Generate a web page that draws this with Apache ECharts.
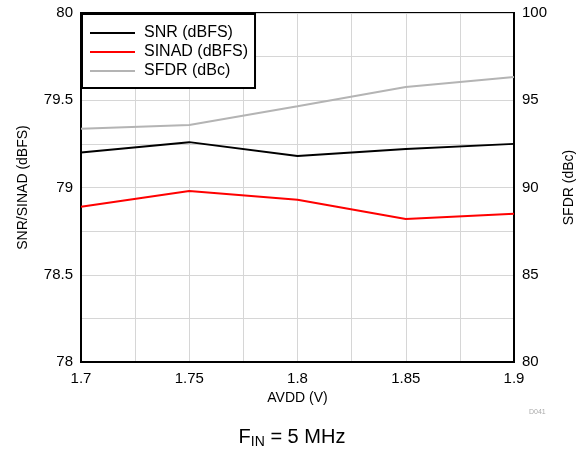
<!DOCTYPE html>
<html><head><meta charset="utf-8">
<script src="https://cdn.jsdelivr.net/npm/echarts@6/dist/echarts.min.js"></script>
<style>html,body{margin:0;padding:0;background:#fff}#c{width:584px;height:456px}</style>
</head><body><div id="c"></div>
<script>
const xValues = [1.7, 1.75, 1.8, 1.85, 1.9];
const snr = [79.20, 79.26, 79.18, 79.22, 79.25];
const sinad = [78.89, 78.98, 78.93, 78.82, 78.85];
const sfdr = [93.37, 93.58, 94.66, 95.76, 96.33];
const leftTicks = [78, 78.5, 79, 79.5, 80];
const rightTicks = [80, 85, 90, 95, 100];
const xTicks = [1.7, 1.75, 1.8, 1.85, 1.9];

const chart = echarts.init(document.getElementById('c'), null, {renderer: 'canvas'});
const font = 'Liberation Sans, Arial, sans-serif';
function fmt(v, list) {
  const t = list.find(t => Math.abs(t - v) < 1e-6);
  return t === undefined ? '' : String(t);
}
const pair = (xs, ys) => xs.map((x, i) => [x, ys[i]]);
chart.setOption({
  animation: false,
  grid: {left: 81, right: 70, top: 13, bottom: 94, show: true, borderColor: '#000', borderWidth: 2, backgroundColor: 'transparent'},
  legend: {
    left: 82, top: 14, orient: 'vertical', itemGap: 3, itemWidth: 45, itemHeight: 2,
    padding: [11, 7, 9, 8],
    backgroundColor: '#fff', borderColor: '#000', borderWidth: 2,
    icon: 'rect',
    textStyle: {fontFamily: font, fontSize: 16, color: '#000', padding: [0, 0, 0, 4]},
    data: ['SNR (dBFS)', 'SINAD (dBFS)', 'SFDR (dBc)']
  },
  xAxis: {
    type: 'value', min: 1.7, max: 1.9, interval: 0.025,
    name: 'AVDD (V)', nameLocation: 'middle', nameGap: 28,
    nameTextStyle: {fontFamily: font, fontSize: 14, color: '#000'},
    axisLine: {lineStyle: {color: '#000', width: 2}},
    axisTick: {show: false},
    axisLabel: {fontFamily: font, fontSize: 15, color: '#000', margin: 9, formatter: v => fmt(v, xTicks)},
    splitLine: {lineStyle: {color: '#d6d6d6', width: 1}}
  },
  yAxis: [{
    type: 'value', min: 78, max: 80, interval: 0.25,
    name: 'SNR/SINAD (dBFS)', nameLocation: 'middle', nameGap: 51,
    nameTextStyle: {fontFamily: font, fontSize: 14, color: '#000'},
    axisLine: {show: true, lineStyle: {color: '#000', width: 2}},
    axisTick: {show: false},
    axisLabel: {fontFamily: font, fontSize: 15, color: '#000', margin: 8, formatter: v => fmt(v, leftTicks)},
    splitLine: {lineStyle: {color: '#d6d6d6', width: 1}}
  }, {
    type: 'value', min: 80, max: 100, interval: 2.5, position: 'right',
    name: 'SFDR (dBc)', nameLocation: 'middle', nameGap: 48, nameRotate: 90,
    nameTextStyle: {fontFamily: font, fontSize: 14, color: '#000'},
    axisLine: {show: true, lineStyle: {color: '#000', width: 2}},
    axisTick: {show: false},
    axisLabel: {fontFamily: font, fontSize: 15, color: '#000', margin: 8, formatter: v => fmt(v, rightTicks)},
    splitLine: {show: false}
  }],
  series: [
    {name: 'SNR (dBFS)', type: 'line', yAxisIndex: 0, data: pair(xValues, snr), showSymbol: false, symbol: 'none', lineStyle: {color: '#000', width: 2}, itemStyle: {color: '#000'}},
    {name: 'SINAD (dBFS)', type: 'line', yAxisIndex: 0, data: pair(xValues, sinad), showSymbol: false, symbol: 'none', lineStyle: {color: '#ff0000', width: 2}, itemStyle: {color: '#ff0000'}},
    {name: 'SFDR (dBc)', type: 'line', yAxisIndex: 1, data: pair(xValues, sfdr), showSymbol: false, symbol: 'none', lineStyle: {color: '#b4b4b4', width: 2}, itemStyle: {color: '#b4b4b4'}}
  ],
  graphic: [
    {type: 'text', left: 529, top: 409, style: {text: 'D041', fontFamily: font, fontSize: 7, fill: '#aaa'}},
    {type: 'text', left: 'center', top: 427, style: {
      rich: {
        a: {fontFamily: font, fontSize: 20, fill: '#000'},
        s: {fontFamily: font, fontSize: 14, fill: '#000', verticalAlign: 'bottom', padding: [11, 0, 0, 0]}
      },
      text: '{a|F}{s|IN}{a| = 5 MHz}'
    }}
  ]
});
</script></body></html>
